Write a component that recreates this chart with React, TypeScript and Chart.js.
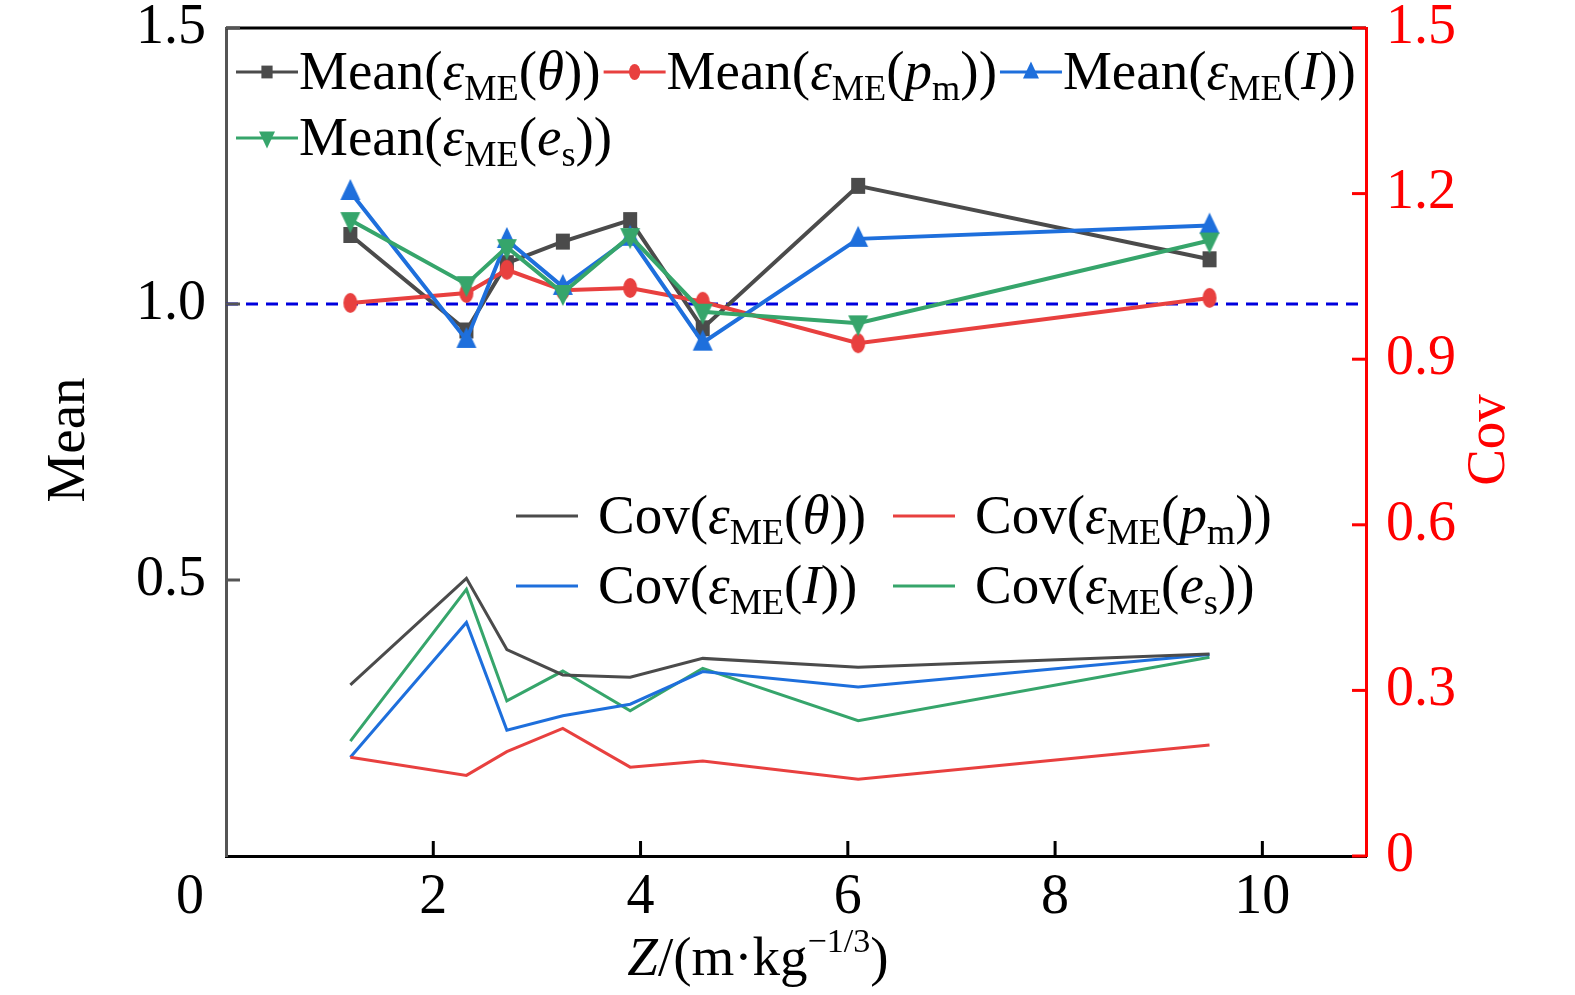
import { useEffect, useRef } from "react";
import { Chart, registerables } from "chart.js";

Chart.register(...registerables);

const FONT = '"Liberation Serif", "Times New Roman", serif';

// scaled distance Z (m·kg^-1/3)
const zValues = [1.2, 2.32, 2.71, 3.25, 3.9, 4.6, 6.1, 9.49];

// Mean of model error (left axis)
const meanTheta = [1.125, 0.952, 1.074, 1.113, 1.152, 0.956, 1.214, 1.081];
const meanPm = [1.002, 1.02, 1.062, 1.025, 1.029, 1.004, 0.929, 1.011];
const meanI = [1.203, 0.935, 1.116, 1.031, 1.12, 0.93, 1.118, 1.142];
const meanEs = [1.152, 1.036, 1.103, 1.02, 1.123, 0.986, 0.965, 1.115];

// Cov of model error (right axis)
const covTheta = [0.31, 0.503, 0.374, 0.328, 0.324, 0.358, 0.342, 0.366];
const covPm = [0.179, 0.146, 0.189, 0.231, 0.161, 0.172, 0.139, 0.201];
const covI = [0.179, 0.423, 0.228, 0.254, 0.275, 0.334, 0.306, 0.365];
const covEs = [0.208, 0.483, 0.281, 0.335, 0.263, 0.34, 0.245, 0.36];

const refLine = [1.0, 1.0];
const xTicks = [0, 2, 4, 6, 8, 10];
const leftTicks = [0.5, 1.0, 1.5];
const rightTicks = [0, 0.3, 0.6, 0.9, 1.2, 1.5];

const GRAY = "#4b4b4b";
const RED = "#e8403f";
const BLUE = "#1e6fdc";
const GREEN = "#36a56b";

type Seg = { t: string; it?: boolean; sub?: boolean; sup?: boolean };

const eps = (inner: Seg[], head: string): Seg[] => [
  { t: head + "(" },
  { t: "ε", it: true },
  { t: "ME", sub: true },
  { t: "(" },
  ...inner,
  { t: "))" },
];
const innerParts: Seg[][] = [
  [{ t: "θ", it: true }],
  [{ t: "p", it: true }, { t: "m", sub: true }],
  [{ t: "I", it: true }],
  [{ t: "e", it: true }, { t: "s", sub: true }],
];
const meanLabels = innerParts.map((p) => eps(p, "Mean"));
const covLabels = innerParts.map((p) => eps(p, "Cov"));
const xTitle: Seg[] = [{ t: "Z", it: true }, { t: "/(m·kg" }, { t: "−1/3", sup: true }, { t: ")" }];

function drawRich(ctx: CanvasRenderingContext2D, segs: Seg[], x: number, y: number, size: number, color: string, measureOnly = false) {
  let cx = x;
  ctx.fillStyle = color;
  ctx.textBaseline = "alphabetic";
  ctx.textAlign = "left";
  for (const s of segs) {
    const fs = s.sub ? size * 0.66 : s.sup ? size * 0.62 : size;
    ctx.font = `${s.it ? "italic " : ""}${fs}px ${FONT}`;
    const dy = s.sub ? size * 0.2 : s.sup ? -size * 0.42 : 0;
    if (!measureOnly) ctx.fillText(s.t, cx, y + dy);
    cx += ctx.measureText(s.t).width;
  }
  return cx - x;
}

function shapePath(ctx: CanvasRenderingContext2D, style: string, x: number, y: number, k: number) {
  ctx.beginPath();
  if (style === "rect") {
    ctx.rect(x - 7 * k, y - 8 * k, 14 * k, 16 * k);
  } else if (style === "circle") {
    ctx.ellipse(x, y, 7 * k, 10 * k, 0, 0, Math.PI * 2);
  } else if (style === "up") {
    ctx.moveTo(x, y - 13 * k);
    ctx.lineTo(x + 10 * k, y + 8 * k);
    ctx.lineTo(x - 10 * k, y + 8 * k);
  } else {
    ctx.moveTo(x, y + 13 * k);
    ctx.lineTo(x + 10 * k, y - 8 * k);
    ctx.lineTo(x - 10 * k, y - 8 * k);
  }
  ctx.closePath();
}

function markerCanvas(style: string, color: string) {
  const c = document.createElement("canvas");
  c.width = 30;
  c.height = 30;
  const g = c.getContext("2d")!;
  g.fillStyle = color;
  shapePath(g, style, 15, 15, 1);
  g.fill();
  return c;
}

const decorPlugin = {
  id: "decor",
  afterDraw(chart: any) {
    const { ctx, chartArea: a, scales } = chart;
    const xs = scales.x;
    const yl = scales.y;
    const yr = scales.y1;
    ctx.save();

    // top frame line
    ctx.strokeStyle = "#000";
    ctx.lineWidth = 3;
    ctx.beginPath();
    ctx.moveTo(a.left, a.top);
    ctx.lineTo(a.right, a.top);
    ctx.stroke();

    // inward ticks
    ctx.strokeStyle = "#000";
    xTicks.forEach((v) => {
      if (v === 0) return;
      const px = xs.getPixelForValue(v);
      ctx.beginPath();
      ctx.moveTo(px, a.bottom);
      ctx.lineTo(px, a.bottom - 15);
      ctx.stroke();
    });
    ctx.strokeStyle = "#555";
    leftTicks.forEach((v) => {
      const py = yl.getPixelForValue(v);
      ctx.beginPath();
      ctx.moveTo(a.left, py);
      ctx.lineTo(a.left + 14, py);
      ctx.stroke();
    });
    ctx.strokeStyle = "#f00";
    rightTicks.forEach((v) => {
      const py = yr.getPixelForValue(v);
      ctx.beginPath();
      ctx.moveTo(a.right, py);
      ctx.lineTo(a.right - 14, py);
      ctx.stroke();
    });

    // x tick "0" sits left of the corner
    ctx.fillStyle = "#000";
    ctx.font = `56px ${FONT}`;
    ctx.textAlign = "center";
    ctx.textBaseline = "alphabetic";
    ctx.fillText("0", xs.getPixelForValue(0) - 36, a.bottom + 57);

    // axis titles
    const tw = drawRich(ctx, xTitle, 0, 0, 55, "#000", true);
    drawRich(ctx, xTitle, 758 - tw / 2, a.bottom + 119, 55, "#000");

    ctx.font = `55px ${FONT}`;
    ctx.textAlign = "center";
    ctx.textBaseline = "middle";
    ctx.save();
    ctx.translate(70, 440);
    ctx.rotate(-Math.PI / 2);
    ctx.fillStyle = "#000";
    ctx.fillText("Mean", 0, 0);
    ctx.restore();
    ctx.save();
    ctx.translate(1490, 440);
    ctx.rotate(-Math.PI / 2);
    ctx.fillStyle = "#f00";
    ctx.fillText("Cov", 0, 0);
    ctx.restore();

    // Mean legend (line + marker)
    const colors = [GRAY, RED, BLUE, GREEN];
    const styles = ["rect", "circle", "up", "down"];
    const fs = 55;
    let lx = a.left + 10;
    let ly = a.top + 61;
    meanLabels.forEach((segs, i) => {
      if (i === 3) {
        lx = a.left + 10;
        ly = a.top + 127;
      }
      ctx.strokeStyle = colors[i];
      ctx.lineWidth = 3;
      ctx.beginPath();
      ctx.moveTo(lx, ly - 17);
      ctx.lineTo(lx + 62, ly - 17);
      ctx.stroke();
      ctx.fillStyle = colors[i];
      shapePath(ctx, styles[i], lx + 31, ly - 17, 0.8);
      ctx.fill();
      const w = drawRich(ctx, segs, lx + 63, ly, fs, "#000");
      lx += 63 + w + 3;
    });

    // Cov legend (line only, 2 x 2)
    const covPos = [
      [516, 533],
      [893, 533],
      [516, 603],
      [893, 603],
    ];
    covLabels.forEach((segs, i) => {
      const [cx, cy] = covPos[i];
      ctx.strokeStyle = colors[i];
      ctx.lineWidth = 3;
      ctx.beginPath();
      ctx.moveTo(cx, cy - 17);
      ctx.lineTo(cx + 62, cy - 17);
      ctx.stroke();
      drawRich(ctx, segs, cx + 82, cy, fs, "#000");
    });

    ctx.restore();
  },
};

const toPts = (ys: number[]) => zValues.map((x, i) => ({ x, y: ys[i] }));

export default function App() {
  const canvasRef = useRef<HTMLCanvasElement>(null);
  const chartRef = useRef<Chart | null>(null);

  useEffect(() => {
    document.body.style.margin = "0";
    if (!canvasRef.current) return;
    const ctx = canvasRef.current.getContext("2d");
    if (!ctx) return;
    if (chartRef.current) chartRef.current.destroy();

    const meanSet = (ys: number[], color: string, style: string) => ({
      data: toPts(ys),
      yAxisID: "y",
      borderColor: color,
      backgroundColor: color,
      borderWidth: 4,
      pointStyle: markerCanvas(style, color),
      pointRadius: 10,
      pointHoverRadius: 10,
    });
    const covSet = (ys: number[], color: string) => ({
      data: toPts(ys),
      yAxisID: "y1",
      borderColor: color,
      backgroundColor: color,
      borderWidth: 3,
      pointRadius: 0,
      pointHoverRadius: 0,
    });

    const noPadY = (w: number) => (s: any) => {
      s.width = w;
      s.paddingTop = 0;
      s.paddingBottom = 0;
    };
    const tickFont = { family: FONT, size: 56, lineHeight: 1 };

    chartRef.current = new Chart(ctx, {
      type: "line",
      data: {
        datasets: [
          meanSet(meanEs, GREEN, "down"),
          meanSet(meanI, BLUE, "up"),
          meanSet(meanPm, RED, "circle"),
          meanSet(meanTheta, GRAY, "rect"),
          covSet(covTheta, GRAY),
          covSet(covPm, RED),
          covSet(covI, BLUE),
          covSet(covEs, GREEN),
          {
            data: [
              { x: 0, y: refLine[0] },
              { x: 11, y: refLine[1] },
            ],
            yAxisID: "y",
            borderColor: "#0000dd",
            borderWidth: 3,
            borderDash: [12, 8],
            pointRadius: 0,
            pointHoverRadius: 0,
          },
        ] as any,
      },
      options: {
        animation: false,
        responsive: true,
        maintainAspectRatio: false,
        events: [],
        layout: { padding: { top: 28, left: 0, right: 0, bottom: 0 } },
        plugins: { legend: { display: false }, tooltip: { enabled: false } },
        scales: {
          x: {
            type: "linear",
            min: 0,
            max: 11,
            afterFit: (s: any) => {
              s.height = 139;
              s.paddingLeft = 0;
              s.paddingRight = 0;
            },
            afterBuildTicks: (s: any) => {
              s.ticks = xTicks.map((v) => ({ value: v }));
            },
            grid: { display: false, drawTicks: false },
            border: { display: true, color: "#000", width: 3 },
            ticks: {
              padding: 14,
              color: "#000",
              font: tickFont,
              callback: (v: any) => (v === 0 ? "" : String(v)),
              maxRotation: 0,
            },
          },
          y: {
            type: "linear",
            position: "left",
            min: 0,
            max: 1.5,
            afterFit: noPadY(226),
            afterBuildTicks: (s: any) => {
              s.ticks = [0, ...leftTicks].map((v) => ({ value: v }));
            },
            grid: { display: false, drawTicks: false },
            border: { display: true, color: "#555", width: 3 },
            ticks: {
              padding: 20,
              color: "#000",
              font: tickFont,
              callback: (v: any) => (v === 0 ? "" : Number(v).toFixed(1)),
            },
          },
          y1: {
            type: "linear",
            position: "right",
            min: 0,
            max: 1.5,
            afterFit: noPadY(209),
            afterBuildTicks: (s: any) => {
              s.ticks = rightTicks.map((v) => ({ value: v }));
            },
            grid: { display: false, drawTicks: false },
            border: { display: true, color: "#f00", width: 3 },
            ticks: {
              padding: 20,
              color: "#f00",
              font: tickFont,
              callback: (v: any) => (v === 0 ? "0" : Number(v).toFixed(1)),
            },
          },
        },
      },
      plugins: [decorPlugin],
    });

    return () => {
      if (chartRef.current) {
        chartRef.current.destroy();
        chartRef.current = null;
      }
    };
  }, []);

  return (
    <div style={{ width: "1575px", height: "995px", position: "relative", background: "#fff" }}>
      <canvas ref={canvasRef} />
    </div>
  );
}
